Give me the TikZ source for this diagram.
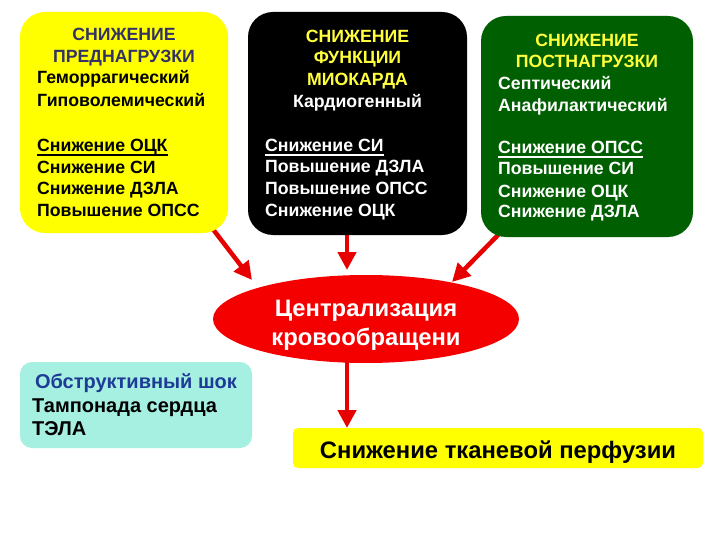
\documentclass[tikz,border=0pt]{standalone}
\usepackage{fontspec}
\setmainfont{Liberation Sans}
\usetikzlibrary{shapes.geometric,arrows.meta,calc}
\definecolor{ylw}{RGB}{255,255,0}
\definecolor{hdrblue}{RGB}{50,50,100}
\definecolor{grn}{RGB}{0,95,0}
\definecolor{hdrylw}{RGB}{255,255,60}
\definecolor{cyanbox}{RGB}{166,240,225}
\definecolor{obblue}{RGB}{30,60,150}
\definecolor{arrred}{RGB}{230,0,0}
\definecolor{elred}{RGB}{245,0,0}
\begin{document}
\begin{tikzpicture}[x=1pt,y=-1pt,
 box/.style={rounded corners=25pt, inner sep=0pt, draw=none},
 txt/.style={font=\bfseries\fontsize{17.7}{21}\selectfont, inner sep=0pt, anchor=base west},
 hdr/.style={font=\bfseries\fontsize{17.7}{21}\selectfont, inner sep=0pt, anchor=base},
 ctxt/.style={font=\bfseries\fontsize{20}{24}\selectfont, inner sep=0pt, anchor=base west},
 etxt/.style={font=\bfseries\fontsize{23.8}{28}\selectfont, inner sep=0pt, anchor=base, text=white},
 arr/.style={draw=arrred, line width=4.5pt, -{Triangle[length=18pt,width=18pt]}},
 ul/.style={line width=1.3pt},
]
\useasboundingbox (0,0) rectangle (720,540);
\fill[white] (0,0) rectangle (720,540);
% arrow end points
\coordinate (a1s) at (212,228); \coordinate (a1e) at (252,280);
\coordinate (a2s) at (347,230); \coordinate (a2e) at (347,270);
\coordinate (a3s) at (500,233); \coordinate (a3e) at (452,282);
\coordinate (a4s) at (347,355); \coordinate (a4e) at (347,428);
\draw[arr] (a1s) -- (a1e);
\draw[arr] (a2s) -- (a2e);
\draw[arr] (a3s) -- (a3e);
\draw[arr] (a4s) -- (a4e);
% boxes
\node[box, fill=ylw, minimum width=208pt, minimum height=221pt] (yb) at (124,122.5) {};
\node[box, fill=black, minimum width=219pt, minimum height=223pt] (bb) at (357.5,123.5) {};
\node[box, fill=grn, minimum width=212pt, minimum height=221pt] (gb) at (587,126.5) {};
\node[ellipse, fill=elred, minimum width=306pt, minimum height=88pt, inner sep=0pt] (el) at (366,319) {};
\node[box, rounded corners=12pt, fill=cyanbox, minimum width=232pt, minimum height=86pt] (cb) at (136,405) {};
\node[box, rounded corners=5pt, fill=ylw, minimum width=410pt, minimum height=40pt] (bt) at (498,448) {};
% yellow box text
\node[hdr, text=hdrblue] (y1) at (124,41) {СНИЖЕНИЕ};
\node[hdr, text=hdrblue] (y2) at (124,63) {ПРЕДНАГРУЗКИ};
\node[txt] (y3) at (37,84) {Геморрагический};
\node[txt] (y4) at (37,107) {Гиповолемический};
\node[txt] (y5) at (37,152) {Снижение ОЦК};
\node[txt] (y6) at (37,174) {Снижение СИ};
\node[txt] (y7) at (37,195) {Снижение ДЗЛА};
\node[txt] (y8) at (37,216) {Повышение ОПСС};
\draw[ul, black] ($(y5.base west)+(0,3)$) -- ($(y5.base east)+(0,3)$);
% black box text
\node[hdr, text=hdrylw] (b1) at (357.5,43) {СНИЖЕНИЕ};
\node[hdr, text=hdrylw] (b2) at (357.5,64) {ФУНКЦИИ};
\node[hdr, text=hdrylw] (b3) at (357.5,86) {МИОКАРДА};
\node[hdr, text=white] (b4) at (357.5,108) {Кардиогенный};
\node[txt, text=white] (b5) at (265,152) {Снижение СИ};
\node[txt, text=white] (b6) at (265,173) {Повышение ДЗЛА};
\node[txt, text=white] (b7) at (265,195) {Повышение ОПСС};
\node[txt, text=white] (b8) at (265,216) {Снижение ОЦК};
\draw[ul, white] ($(b5.base west)+(0,3)$) -- ($(b5.base east)+(0,3)$);
% green box text
\node[hdr, text=hdrylw] (g1) at (587,47) {СНИЖЕНИЕ};
\node[hdr, text=hdrylw] (g2) at (587,68) {ПОСТНАГРУЗКИ};
\node[txt, text=white] (g3) at (498,90) {Септический};
\node[txt, text=white] (g4) at (498,112) {Анафилактический};
\node[txt, text=white] (g5) at (498,154) {Снижение ОПСС};
\node[txt, text=white] (g6) at (498,175) {Повышение СИ};
\node[txt, text=white] (g7) at (498,197) {Снижение ОЦК};
\node[txt, text=white] (g8) at (498,218) {Снижение ДЗЛА};
\draw[ul, white] ($(g5.base west)+(0,3)$) -- ($(g5.base east)+(0,3)$);
% ellipse text
\node[etxt] (e1) at (366,316) {Централизация};
\node[etxt] (e2) at (366,345) {кровообращени};
\node[etxt] (e3) at (363,376) {я};
% cyan box text
\node[ctxt, anchor=base, text=obblue] (c1) at (136,388) {Обструктивный шок};
\node[ctxt] (c2) at (32,412) {Тампонада сердца};
\node[ctxt] (c3) at (32,435) {ТЭЛА};
% bottom box text
\node[etxt, text=black] (t1) at (498,458) {Снижение тканевой перфузии};
\end{tikzpicture}
\end{document}
